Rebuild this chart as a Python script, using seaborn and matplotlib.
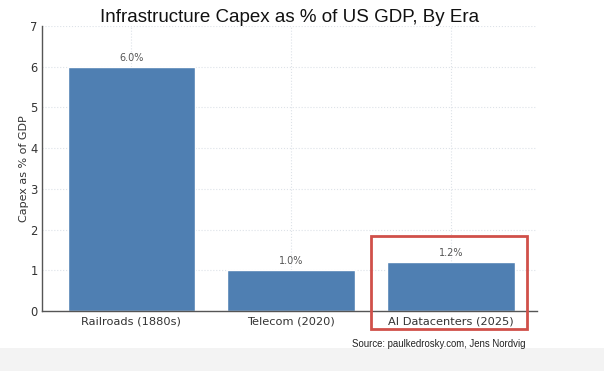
import matplotlib
matplotlib.use("Agg")
import matplotlib.pyplot as plt
import seaborn as sns
import pandas as pd
from matplotlib.patches import Rectangle

# ---------------------- 数据 ----------------------
eras = ["Railroads (1880s)", "Telecom (2020)", "AI Datacenters (2025)"]
capex_pct = [6.0, 1.0, 1.2]
bar_labels = ["6.0%", "1.0%", "1.2%"]
y_ticks = [0, 1, 2, 3, 4, 5, 6, 7]

df = pd.DataFrame({"era": eras, "capex": capex_pct})

sns.set_style("white")
plt.rcParams["font.family"] = ["DejaVu Sans"]

W, H = 604, 371
fig = plt.figure(figsize=(W / 100, H / 100), dpi=100)
fig.patch.set_facecolor("white")
# 底部浅灰色条
fig.patches.append(Rectangle((0, 0), 1, (H - 348) / H, transform=fig.transFigure,
                             facecolor="#f3f3f3", edgecolor="none", zorder=0))

ax = fig.add_axes([42 / W, 1 - 311 / H, (537 - 42) / W, (311 - 26) / H])

sns.barplot(data=df, x="era", y="capex", color="#4f7fb2", saturation=1,
            width=0.8, ax=ax, zorder=2)

ax.set_xlim(-0.56, 2.54)
ax.set_ylim(0, 7)
ax.set_yticks(y_ticks)
ax.grid(True, color="#dde2e8", linestyle=":", linewidth=0.8, zorder=0)
ax.set_axisbelow(True)
for s in ["top", "right"]:
    ax.spines[s].set_visible(False)
for s in ["left", "bottom"]:
    ax.spines[s].set_color("#555555")
    ax.spines[s].set_linewidth(1.0)
ax.tick_params(axis="both", length=0, labelcolor="#333333")
ax.tick_params(axis="y", labelsize=8.3, pad=3)
ax.tick_params(axis="x", labelsize=8.2, pad=4)

ax.set_xlabel("")
ax.set_ylabel("Capex as % of GDP", fontsize=8, color="#333333")
ax.yaxis.set_label_coords(-13 / (537 - 42), 0.5)

# 柱顶标签
for i, (v, lab) in enumerate(zip(capex_pct, bar_labels)):
    ax.annotate(lab, (i, v), xytext=(0, 3), textcoords="offset points",
                ha="center", va="bottom", fontsize=7, color="#555555")

fig.text(290 / W, 1 - 18 / H, "Infrastructure Capex as % of US GDP, By Era",
         ha="center", va="center", fontsize=13.5, family="Liberation Sans", color="#111111")
fig.text(526 / W, 1 - 344 / H, "Source: paulkedrosky.com, Jens Nordvig",
         ha="right", va="center", fontsize=6.9, family="Liberation Sans", color="#222222")

# 红色高亮框
fig.patches.append(Rectangle((371 / W, 1 - 329 / H), (527 - 371) / W, (329 - 236) / H,
                             transform=fig.transFigure, fill=False,
                             edgecolor="#d0504a", linewidth=2, zorder=5))

fig.savefig("out.png", dpi=100)
